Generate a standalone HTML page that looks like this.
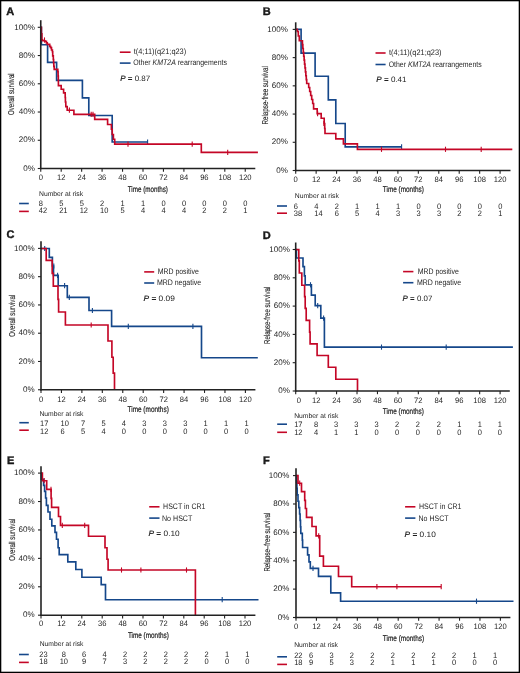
<!DOCTYPE html>
<html><head><meta charset="utf-8"><style>
html,body{margin:0;padding:0;background:#fff;}
svg{display:block;will-change:transform;}
text{font-family:"Liberation Sans", sans-serif;fill:#1e1e1e;text-rendering:geometricPrecision;}
</style></head><body>
<svg width="520" height="673" viewBox="0 0 520 673">
<rect x="0" y="0" width="520" height="673" fill="#fff" stroke="#000" stroke-width="2.6"/>
<text x="6.20" y="14.70" font-size="11" font-weight="bold" fill="#000" stroke="#000" stroke-width="0.35">A</text>
<path d="M40.80 27.30H41.40V44.70H47.60V62.40H56.60V80.30H82.40V97.90H88.80V115.50H112.20V142.00H147.60" fill="none" stroke="#15478a" stroke-width="1.65" stroke-linejoin="miter"/>
<line x1="147.60" y1="139.40" x2="147.60" y2="144.60" stroke="#15478a" stroke-width="1.1"/>
<path d="M40.80 27.30H41.40V33.90H41.90V39.90H42.60V40.70H44.90V41.30H46.40V42.80H47.30V44.30H49.70V46.40H50.60V47.60H51.50V50.00H52.40V51.70H52.70V55.90H53.30V59.50H53.60V63.00H53.80V66.30H54.20V69.40H57.80V71.60H58.10V76.10H58.30V80.50H58.40V85.60H61.20V89.20H63.60V92.80H65.20V97.50H65.40V102.00H65.80V106.60H67.20V110.20H73.90V114.40H94.70V119.40H107.60V124.50H111.40V129.20H112.20V134.50H113.40V139.20H114.70V144.10H201.30V152.30H257.90" fill="none" stroke="#c40626" stroke-width="1.65" stroke-linejoin="miter"/>
<line x1="44.50" y1="37.40" x2="44.50" y2="42.60" stroke="#c40626" stroke-width="1.1"/>
<line x1="69.40" y1="107.60" x2="69.40" y2="112.80" stroke="#c40626" stroke-width="1.1"/>
<line x1="91.20" y1="111.80" x2="91.20" y2="117.00" stroke="#c40626" stroke-width="1.1"/>
<line x1="93.00" y1="111.80" x2="93.00" y2="117.00" stroke="#c40626" stroke-width="1.1"/>
<line x1="128.00" y1="141.50" x2="128.00" y2="146.70" stroke="#c40626" stroke-width="1.1"/>
<line x1="192.20" y1="141.50" x2="192.20" y2="146.70" stroke="#c40626" stroke-width="1.1"/>
<line x1="227.70" y1="149.70" x2="227.70" y2="154.90" stroke="#c40626" stroke-width="1.1"/>
<line x1="40.75" y1="20.20" x2="40.75" y2="169.20" stroke="#222222" stroke-width="1.6"/>
<line x1="40.05" y1="168.50" x2="255.30" y2="168.50" stroke="#222222" stroke-width="1.4"/>
<line x1="37.75" y1="168.50" x2="40.75" y2="168.50" stroke="#222222" stroke-width="1.1"/>
<text x="34.90" y="170.70" font-size="8.1" text-anchor="end" textLength="11.63" lengthAdjust="spacingAndGlyphs">0%</text>
<line x1="37.75" y1="140.26" x2="40.75" y2="140.26" stroke="#222222" stroke-width="1.1"/>
<text x="34.90" y="142.46" font-size="8.1" text-anchor="end" textLength="16.11" lengthAdjust="spacingAndGlyphs">20%</text>
<line x1="37.75" y1="112.02" x2="40.75" y2="112.02" stroke="#222222" stroke-width="1.1"/>
<text x="34.90" y="114.22" font-size="8.1" text-anchor="end" textLength="16.11" lengthAdjust="spacingAndGlyphs">40%</text>
<line x1="37.75" y1="83.78" x2="40.75" y2="83.78" stroke="#222222" stroke-width="1.1"/>
<text x="34.90" y="85.98" font-size="8.1" text-anchor="end" textLength="16.11" lengthAdjust="spacingAndGlyphs">60%</text>
<line x1="37.75" y1="55.54" x2="40.75" y2="55.54" stroke="#222222" stroke-width="1.1"/>
<text x="34.90" y="57.74" font-size="8.1" text-anchor="end" textLength="16.11" lengthAdjust="spacingAndGlyphs">80%</text>
<line x1="37.75" y1="27.30" x2="40.75" y2="27.30" stroke="#222222" stroke-width="1.1"/>
<text x="34.90" y="29.50" font-size="8.1" text-anchor="end" textLength="20.59" lengthAdjust="spacingAndGlyphs">100%</text>
<line x1="40.75" y1="168.50" x2="40.75" y2="171.70" stroke="#222222" stroke-width="1.1"/>
<text x="40.75" y="180.30" font-size="7.9" text-anchor="middle" textLength="4.23" lengthAdjust="spacingAndGlyphs">0</text>
<line x1="61.20" y1="168.50" x2="61.20" y2="171.70" stroke="#222222" stroke-width="1.1"/>
<text x="61.20" y="180.30" font-size="7.9" text-anchor="middle" textLength="8.45" lengthAdjust="spacingAndGlyphs">12</text>
<line x1="81.65" y1="168.50" x2="81.65" y2="171.70" stroke="#222222" stroke-width="1.1"/>
<text x="81.65" y="180.30" font-size="7.9" text-anchor="middle" textLength="8.45" lengthAdjust="spacingAndGlyphs">24</text>
<line x1="102.10" y1="168.50" x2="102.10" y2="171.70" stroke="#222222" stroke-width="1.1"/>
<text x="102.10" y="180.30" font-size="7.9" text-anchor="middle" textLength="8.45" lengthAdjust="spacingAndGlyphs">36</text>
<line x1="122.55" y1="168.50" x2="122.55" y2="171.70" stroke="#222222" stroke-width="1.1"/>
<text x="122.55" y="180.30" font-size="7.9" text-anchor="middle" textLength="8.45" lengthAdjust="spacingAndGlyphs">48</text>
<line x1="143.00" y1="168.50" x2="143.00" y2="171.70" stroke="#222222" stroke-width="1.1"/>
<text x="143.00" y="180.30" font-size="7.9" text-anchor="middle" textLength="8.45" lengthAdjust="spacingAndGlyphs">60</text>
<line x1="163.45" y1="168.50" x2="163.45" y2="171.70" stroke="#222222" stroke-width="1.1"/>
<text x="163.45" y="180.30" font-size="7.9" text-anchor="middle" textLength="8.45" lengthAdjust="spacingAndGlyphs">72</text>
<line x1="183.90" y1="168.50" x2="183.90" y2="171.70" stroke="#222222" stroke-width="1.1"/>
<text x="183.90" y="180.30" font-size="7.9" text-anchor="middle" textLength="8.45" lengthAdjust="spacingAndGlyphs">84</text>
<line x1="204.35" y1="168.50" x2="204.35" y2="171.70" stroke="#222222" stroke-width="1.1"/>
<text x="204.35" y="180.30" font-size="7.9" text-anchor="middle" textLength="8.45" lengthAdjust="spacingAndGlyphs">96</text>
<line x1="224.80" y1="168.50" x2="224.80" y2="171.70" stroke="#222222" stroke-width="1.1"/>
<text x="224.80" y="180.30" font-size="7.9" text-anchor="middle" textLength="12.68" lengthAdjust="spacingAndGlyphs">108</text>
<line x1="245.25" y1="168.50" x2="245.25" y2="171.70" stroke="#222222" stroke-width="1.1"/>
<text x="245.25" y="180.30" font-size="7.9" text-anchor="middle" textLength="12.68" lengthAdjust="spacingAndGlyphs">120</text>
<text x="127.70" y="192.00" font-size="8.2" textLength="40.20" lengthAdjust="spacingAndGlyphs" stroke="#1e1e1e" stroke-width="0.22">Time (months)</text>
<text transform="translate(14.00,94.20) rotate(-90)" x="0" y="0" font-size="8.5" text-anchor="middle" textLength="41.70" lengthAdjust="spacingAndGlyphs" stroke="#1e1e1e" stroke-width="0.12">Overall survival</text>
<line x1="119.80" y1="52.20" x2="130.60" y2="52.20" stroke="#c40626" stroke-width="1.6"/>
<text x="133.70" y="54.20" font-size="8.0" textLength="52.50" lengthAdjust="spacingAndGlyphs">t(4;11)(q21;q23)</text>
<line x1="119.80" y1="63.10" x2="130.60" y2="63.10" stroke="#15478a" stroke-width="1.6"/>
<text x="133.20" y="65.20" font-size="8.0" textLength="93.80" lengthAdjust="spacingAndGlyphs">Other <tspan font-style="italic">KMT2A</tspan> rearrangements</text>
<text x="120.20" y="81.00" font-size="7.8" textLength="30.00" lengthAdjust="spacingAndGlyphs"><tspan font-style="italic" stroke="#1e1e1e" stroke-width="0.2">P</tspan> <tspan font-weight="bold">=</tspan> 0.87</text>
<text x="39.00" y="196.00" font-size="6.8" textLength="44.10" lengthAdjust="spacingAndGlyphs">Number at risk</text>
<line x1="19.10" y1="203.50" x2="28.80" y2="203.50" stroke="#15478a" stroke-width="1.6"/>
<text x="38.75" y="206.30" font-size="7.9" textLength="4.17" lengthAdjust="spacingAndGlyphs">8</text>
<text x="59.20" y="206.30" font-size="7.9" textLength="4.17" lengthAdjust="spacingAndGlyphs">5</text>
<text x="79.65" y="206.30" font-size="7.9" textLength="4.17" lengthAdjust="spacingAndGlyphs">5</text>
<text x="100.10" y="206.30" font-size="7.9" textLength="4.17" lengthAdjust="spacingAndGlyphs">2</text>
<text x="120.55" y="206.30" font-size="7.9" textLength="4.17" lengthAdjust="spacingAndGlyphs">1</text>
<text x="141.00" y="206.30" font-size="7.9" textLength="4.17" lengthAdjust="spacingAndGlyphs">1</text>
<text x="161.45" y="206.30" font-size="7.9" textLength="4.17" lengthAdjust="spacingAndGlyphs">0</text>
<text x="181.90" y="206.30" font-size="7.9" textLength="4.17" lengthAdjust="spacingAndGlyphs">0</text>
<text x="202.35" y="206.30" font-size="7.9" textLength="4.17" lengthAdjust="spacingAndGlyphs">0</text>
<text x="222.80" y="206.30" font-size="7.9" textLength="4.17" lengthAdjust="spacingAndGlyphs">0</text>
<text x="243.25" y="206.30" font-size="7.9" textLength="4.17" lengthAdjust="spacingAndGlyphs">0</text>
<line x1="19.10" y1="211.40" x2="28.80" y2="211.40" stroke="#c40626" stroke-width="1.6"/>
<text x="38.75" y="213.10" font-size="7.9" textLength="8.34" lengthAdjust="spacingAndGlyphs">42</text>
<text x="59.20" y="213.10" font-size="7.9" textLength="8.34" lengthAdjust="spacingAndGlyphs">21</text>
<text x="79.65" y="213.10" font-size="7.9" textLength="8.34" lengthAdjust="spacingAndGlyphs">12</text>
<text x="100.10" y="213.10" font-size="7.9" textLength="8.34" lengthAdjust="spacingAndGlyphs">10</text>
<text x="120.55" y="213.10" font-size="7.9" textLength="4.17" lengthAdjust="spacingAndGlyphs">5</text>
<text x="141.00" y="213.10" font-size="7.9" textLength="4.17" lengthAdjust="spacingAndGlyphs">4</text>
<text x="161.45" y="213.10" font-size="7.9" textLength="4.17" lengthAdjust="spacingAndGlyphs">4</text>
<text x="181.90" y="213.10" font-size="7.9" textLength="4.17" lengthAdjust="spacingAndGlyphs">4</text>
<text x="202.35" y="213.10" font-size="7.9" textLength="4.17" lengthAdjust="spacingAndGlyphs">2</text>
<text x="222.80" y="213.10" font-size="7.9" textLength="4.17" lengthAdjust="spacingAndGlyphs">2</text>
<text x="243.25" y="213.10" font-size="7.9" textLength="4.17" lengthAdjust="spacingAndGlyphs">1</text>
<text x="262.80" y="14.90" font-size="11" font-weight="bold" fill="#000" stroke="#000" stroke-width="0.35">B</text>
<path d="M296.00 29.30H301.10V53.10H315.10V76.20H328.30V99.80H335.80V123.50H345.20V146.80H401.60" fill="none" stroke="#15478a" stroke-width="1.65" stroke-linejoin="miter"/>
<line x1="401.60" y1="144.20" x2="401.60" y2="149.40" stroke="#15478a" stroke-width="1.1"/>
<path d="M296.00 29.30H297.30V31.50H298.30V36.00H299.30V40.70H302.43V44.59H302.85V48.48H303.28V52.37H303.71V56.26H304.14V60.15H304.56V64.05H304.99V67.94H305.42V71.83H305.85V75.72H306.27V79.61H306.70V83.50H308.70V87.50H309.70V91.50H310.70V95.50H311.70V99.50H312.70V103.50H313.60V108.90H317.20V113.60H321.20V118.20H324.20V123.50H324.70V128.50H325.00V133.50H335.80V138.90H343.40V143.80H357.40V149.30H512.30" fill="none" stroke="#c40626" stroke-width="1.65" stroke-linejoin="miter"/>
<line x1="317.60" y1="111.00" x2="317.60" y2="116.20" stroke="#c40626" stroke-width="1.1"/>
<line x1="323.90" y1="120.90" x2="323.90" y2="126.10" stroke="#c40626" stroke-width="1.1"/>
<line x1="381.50" y1="146.70" x2="381.50" y2="151.90" stroke="#c40626" stroke-width="1.1"/>
<line x1="445.50" y1="146.70" x2="445.50" y2="151.90" stroke="#c40626" stroke-width="1.1"/>
<line x1="481.20" y1="146.70" x2="481.20" y2="151.90" stroke="#c40626" stroke-width="1.1"/>
<line x1="295.70" y1="22.30" x2="295.70" y2="171.20" stroke="#222222" stroke-width="1.6"/>
<line x1="295.00" y1="170.50" x2="510.50" y2="170.50" stroke="#222222" stroke-width="1.4"/>
<line x1="292.70" y1="170.50" x2="295.70" y2="170.50" stroke="#222222" stroke-width="1.1"/>
<text x="287.80" y="172.70" font-size="8.1" text-anchor="end" textLength="11.63" lengthAdjust="spacingAndGlyphs">0%</text>
<line x1="292.70" y1="142.28" x2="295.70" y2="142.28" stroke="#222222" stroke-width="1.1"/>
<text x="287.80" y="144.48" font-size="8.1" text-anchor="end" textLength="16.11" lengthAdjust="spacingAndGlyphs">20%</text>
<line x1="292.70" y1="114.06" x2="295.70" y2="114.06" stroke="#222222" stroke-width="1.1"/>
<text x="287.80" y="116.26" font-size="8.1" text-anchor="end" textLength="16.11" lengthAdjust="spacingAndGlyphs">40%</text>
<line x1="292.70" y1="85.84" x2="295.70" y2="85.84" stroke="#222222" stroke-width="1.1"/>
<text x="287.80" y="88.04" font-size="8.1" text-anchor="end" textLength="16.11" lengthAdjust="spacingAndGlyphs">60%</text>
<line x1="292.70" y1="57.62" x2="295.70" y2="57.62" stroke="#222222" stroke-width="1.1"/>
<text x="287.80" y="59.82" font-size="8.1" text-anchor="end" textLength="16.11" lengthAdjust="spacingAndGlyphs">80%</text>
<line x1="292.70" y1="29.40" x2="295.70" y2="29.40" stroke="#222222" stroke-width="1.1"/>
<text x="287.80" y="31.60" font-size="8.1" text-anchor="end" textLength="20.59" lengthAdjust="spacingAndGlyphs">100%</text>
<line x1="295.70" y1="170.50" x2="295.70" y2="173.70" stroke="#222222" stroke-width="1.1"/>
<text x="295.70" y="182.00" font-size="7.9" text-anchor="middle" textLength="4.23" lengthAdjust="spacingAndGlyphs">0</text>
<line x1="316.14" y1="170.50" x2="316.14" y2="173.70" stroke="#222222" stroke-width="1.1"/>
<text x="316.14" y="182.00" font-size="7.9" text-anchor="middle" textLength="8.45" lengthAdjust="spacingAndGlyphs">12</text>
<line x1="336.58" y1="170.50" x2="336.58" y2="173.70" stroke="#222222" stroke-width="1.1"/>
<text x="336.58" y="182.00" font-size="7.9" text-anchor="middle" textLength="8.45" lengthAdjust="spacingAndGlyphs">24</text>
<line x1="357.02" y1="170.50" x2="357.02" y2="173.70" stroke="#222222" stroke-width="1.1"/>
<text x="357.02" y="182.00" font-size="7.9" text-anchor="middle" textLength="8.45" lengthAdjust="spacingAndGlyphs">36</text>
<line x1="377.46" y1="170.50" x2="377.46" y2="173.70" stroke="#222222" stroke-width="1.1"/>
<text x="377.46" y="182.00" font-size="7.9" text-anchor="middle" textLength="8.45" lengthAdjust="spacingAndGlyphs">48</text>
<line x1="397.90" y1="170.50" x2="397.90" y2="173.70" stroke="#222222" stroke-width="1.1"/>
<text x="397.90" y="182.00" font-size="7.9" text-anchor="middle" textLength="8.45" lengthAdjust="spacingAndGlyphs">60</text>
<line x1="418.34" y1="170.50" x2="418.34" y2="173.70" stroke="#222222" stroke-width="1.1"/>
<text x="418.34" y="182.00" font-size="7.9" text-anchor="middle" textLength="8.45" lengthAdjust="spacingAndGlyphs">72</text>
<line x1="438.78" y1="170.50" x2="438.78" y2="173.70" stroke="#222222" stroke-width="1.1"/>
<text x="438.78" y="182.00" font-size="7.9" text-anchor="middle" textLength="8.45" lengthAdjust="spacingAndGlyphs">84</text>
<line x1="459.22" y1="170.50" x2="459.22" y2="173.70" stroke="#222222" stroke-width="1.1"/>
<text x="459.22" y="182.00" font-size="7.9" text-anchor="middle" textLength="8.45" lengthAdjust="spacingAndGlyphs">96</text>
<line x1="479.66" y1="170.50" x2="479.66" y2="173.70" stroke="#222222" stroke-width="1.1"/>
<text x="479.66" y="182.00" font-size="7.9" text-anchor="middle" textLength="12.68" lengthAdjust="spacingAndGlyphs">108</text>
<line x1="500.10" y1="170.50" x2="500.10" y2="173.70" stroke="#222222" stroke-width="1.1"/>
<text x="500.10" y="182.00" font-size="7.9" text-anchor="middle" textLength="12.68" lengthAdjust="spacingAndGlyphs">120</text>
<text x="382.80" y="192.20" font-size="8.2" textLength="41.00" lengthAdjust="spacingAndGlyphs" stroke="#1e1e1e" stroke-width="0.22">Time (months)</text>
<text transform="translate(267.80,95.30) rotate(-90)" x="0" y="0" font-size="8.5" text-anchor="middle" textLength="58.30" lengthAdjust="spacingAndGlyphs" stroke="#1e1e1e" stroke-width="0.12">Relapse-free survival</text>
<line x1="375.50" y1="53.00" x2="385.60" y2="53.00" stroke="#c40626" stroke-width="1.6"/>
<text x="389.00" y="55.30" font-size="8.0" textLength="52.50" lengthAdjust="spacingAndGlyphs">t(4;11)(q21;q23)</text>
<line x1="375.50" y1="64.50" x2="385.60" y2="64.50" stroke="#15478a" stroke-width="1.6"/>
<text x="388.70" y="66.60" font-size="8.0" textLength="93.00" lengthAdjust="spacingAndGlyphs">Other <tspan font-style="italic">KMT2A</tspan> rearrangements</text>
<text x="376.30" y="81.50" font-size="7.8" textLength="30.30" lengthAdjust="spacingAndGlyphs"><tspan font-style="italic" stroke="#1e1e1e" stroke-width="0.2">P</tspan> <tspan font-weight="bold">=</tspan> 0.41</text>
<text x="294.80" y="198.00" font-size="6.8" textLength="44.10" lengthAdjust="spacingAndGlyphs">Number at risk</text>
<line x1="277.00" y1="206.00" x2="287.00" y2="206.00" stroke="#15478a" stroke-width="1.6"/>
<text x="293.80" y="208.60" font-size="7.9" textLength="4.17" lengthAdjust="spacingAndGlyphs">6</text>
<text x="314.24" y="208.60" font-size="7.9" textLength="4.17" lengthAdjust="spacingAndGlyphs">4</text>
<text x="334.68" y="208.60" font-size="7.9" textLength="4.17" lengthAdjust="spacingAndGlyphs">2</text>
<text x="355.12" y="208.60" font-size="7.9" textLength="4.17" lengthAdjust="spacingAndGlyphs">1</text>
<text x="375.56" y="208.60" font-size="7.9" textLength="4.17" lengthAdjust="spacingAndGlyphs">1</text>
<text x="396.00" y="208.60" font-size="7.9" textLength="4.17" lengthAdjust="spacingAndGlyphs">1</text>
<text x="416.44" y="208.60" font-size="7.9" textLength="4.17" lengthAdjust="spacingAndGlyphs">0</text>
<text x="436.88" y="208.60" font-size="7.9" textLength="4.17" lengthAdjust="spacingAndGlyphs">0</text>
<text x="457.32" y="208.60" font-size="7.9" textLength="4.17" lengthAdjust="spacingAndGlyphs">0</text>
<text x="477.76" y="208.60" font-size="7.9" textLength="4.17" lengthAdjust="spacingAndGlyphs">0</text>
<text x="498.20" y="208.60" font-size="7.9" textLength="4.17" lengthAdjust="spacingAndGlyphs">0</text>
<line x1="277.00" y1="213.20" x2="287.00" y2="213.20" stroke="#c40626" stroke-width="1.6"/>
<text x="293.80" y="215.90" font-size="7.9" textLength="8.34" lengthAdjust="spacingAndGlyphs">38</text>
<text x="314.24" y="215.90" font-size="7.9" textLength="8.34" lengthAdjust="spacingAndGlyphs">14</text>
<text x="334.68" y="215.90" font-size="7.9" textLength="4.17" lengthAdjust="spacingAndGlyphs">6</text>
<text x="355.12" y="215.90" font-size="7.9" textLength="4.17" lengthAdjust="spacingAndGlyphs">5</text>
<text x="375.56" y="215.90" font-size="7.9" textLength="4.17" lengthAdjust="spacingAndGlyphs">4</text>
<text x="396.00" y="215.90" font-size="7.9" textLength="4.17" lengthAdjust="spacingAndGlyphs">3</text>
<text x="416.44" y="215.90" font-size="7.9" textLength="4.17" lengthAdjust="spacingAndGlyphs">3</text>
<text x="436.88" y="215.90" font-size="7.9" textLength="4.17" lengthAdjust="spacingAndGlyphs">3</text>
<text x="457.32" y="215.90" font-size="7.9" textLength="4.17" lengthAdjust="spacingAndGlyphs">2</text>
<text x="477.76" y="215.90" font-size="7.9" textLength="4.17" lengthAdjust="spacingAndGlyphs">2</text>
<text x="498.20" y="215.90" font-size="7.9" textLength="4.17" lengthAdjust="spacingAndGlyphs">1</text>
<text x="6.60" y="237.90" font-size="11" font-weight="bold" fill="#000" stroke="#000" stroke-width="0.35">C</text>
<path d="M40.80 248.50H49.30V257.30H52.40V266.00H53.50V275.40H58.20V285.70H67.30V297.40H89.00V310.50H111.60V326.30H201.50V357.70H257.80" fill="none" stroke="#15478a" stroke-width="1.65" stroke-linejoin="miter"/>
<line x1="44.70" y1="245.90" x2="44.70" y2="251.10" stroke="#15478a" stroke-width="1.1"/>
<line x1="53.80" y1="263.40" x2="53.80" y2="268.60" stroke="#15478a" stroke-width="1.1"/>
<line x1="57.60" y1="272.80" x2="57.60" y2="278.00" stroke="#15478a" stroke-width="1.1"/>
<line x1="64.60" y1="283.10" x2="64.60" y2="288.30" stroke="#15478a" stroke-width="1.1"/>
<line x1="69.30" y1="294.80" x2="69.30" y2="300.00" stroke="#15478a" stroke-width="1.1"/>
<line x1="92.40" y1="307.90" x2="92.40" y2="313.10" stroke="#15478a" stroke-width="1.1"/>
<line x1="128.30" y1="323.70" x2="128.30" y2="328.90" stroke="#15478a" stroke-width="1.1"/>
<line x1="192.90" y1="323.70" x2="192.90" y2="328.90" stroke="#15478a" stroke-width="1.1"/>
<path d="M40.80 248.50H46.20V260.30H52.20V273.40H53.30V286.10H58.00V299.30H58.60V312.00H65.40V325.00H108.00V341.00H111.90V357.20H113.20V373.10H114.50V389.80" fill="none" stroke="#c40626" stroke-width="1.65" stroke-linejoin="miter"/>
<line x1="91.20" y1="322.40" x2="91.20" y2="327.60" stroke="#c40626" stroke-width="1.1"/>
<line x1="41.00" y1="241.30" x2="41.00" y2="390.45" stroke="#222222" stroke-width="1.6"/>
<line x1="40.30" y1="389.75" x2="255.40" y2="389.75" stroke="#222222" stroke-width="1.4"/>
<line x1="38.00" y1="389.75" x2="41.00" y2="389.75" stroke="#222222" stroke-width="1.1"/>
<text x="34.60" y="391.95" font-size="8.1" text-anchor="end" textLength="11.63" lengthAdjust="spacingAndGlyphs">0%</text>
<line x1="38.00" y1="361.48" x2="41.00" y2="361.48" stroke="#222222" stroke-width="1.1"/>
<text x="34.60" y="363.68" font-size="8.1" text-anchor="end" textLength="16.11" lengthAdjust="spacingAndGlyphs">20%</text>
<line x1="38.00" y1="333.21" x2="41.00" y2="333.21" stroke="#222222" stroke-width="1.1"/>
<text x="34.60" y="335.41" font-size="8.1" text-anchor="end" textLength="16.11" lengthAdjust="spacingAndGlyphs">40%</text>
<line x1="38.00" y1="304.94" x2="41.00" y2="304.94" stroke="#222222" stroke-width="1.1"/>
<text x="34.60" y="307.14" font-size="8.1" text-anchor="end" textLength="16.11" lengthAdjust="spacingAndGlyphs">60%</text>
<line x1="38.00" y1="276.67" x2="41.00" y2="276.67" stroke="#222222" stroke-width="1.1"/>
<text x="34.60" y="278.87" font-size="8.1" text-anchor="end" textLength="16.11" lengthAdjust="spacingAndGlyphs">80%</text>
<line x1="38.00" y1="248.40" x2="41.00" y2="248.40" stroke="#222222" stroke-width="1.1"/>
<text x="34.60" y="250.60" font-size="8.1" text-anchor="end" textLength="20.59" lengthAdjust="spacingAndGlyphs">100%</text>
<line x1="41.00" y1="389.75" x2="41.00" y2="392.95" stroke="#222222" stroke-width="1.1"/>
<text x="41.00" y="401.80" font-size="7.9" text-anchor="middle" textLength="4.23" lengthAdjust="spacingAndGlyphs">0</text>
<line x1="61.44" y1="389.75" x2="61.44" y2="392.95" stroke="#222222" stroke-width="1.1"/>
<text x="61.44" y="401.80" font-size="7.9" text-anchor="middle" textLength="8.45" lengthAdjust="spacingAndGlyphs">12</text>
<line x1="81.88" y1="389.75" x2="81.88" y2="392.95" stroke="#222222" stroke-width="1.1"/>
<text x="81.88" y="401.80" font-size="7.9" text-anchor="middle" textLength="8.45" lengthAdjust="spacingAndGlyphs">24</text>
<line x1="102.32" y1="389.75" x2="102.32" y2="392.95" stroke="#222222" stroke-width="1.1"/>
<text x="102.32" y="401.80" font-size="7.9" text-anchor="middle" textLength="8.45" lengthAdjust="spacingAndGlyphs">36</text>
<line x1="122.76" y1="389.75" x2="122.76" y2="392.95" stroke="#222222" stroke-width="1.1"/>
<text x="122.76" y="401.80" font-size="7.9" text-anchor="middle" textLength="8.45" lengthAdjust="spacingAndGlyphs">48</text>
<line x1="143.20" y1="389.75" x2="143.20" y2="392.95" stroke="#222222" stroke-width="1.1"/>
<text x="143.20" y="401.80" font-size="7.9" text-anchor="middle" textLength="8.45" lengthAdjust="spacingAndGlyphs">60</text>
<line x1="163.64" y1="389.75" x2="163.64" y2="392.95" stroke="#222222" stroke-width="1.1"/>
<text x="163.64" y="401.80" font-size="7.9" text-anchor="middle" textLength="8.45" lengthAdjust="spacingAndGlyphs">72</text>
<line x1="184.08" y1="389.75" x2="184.08" y2="392.95" stroke="#222222" stroke-width="1.1"/>
<text x="184.08" y="401.80" font-size="7.9" text-anchor="middle" textLength="8.45" lengthAdjust="spacingAndGlyphs">84</text>
<line x1="204.52" y1="389.75" x2="204.52" y2="392.95" stroke="#222222" stroke-width="1.1"/>
<text x="204.52" y="401.80" font-size="7.9" text-anchor="middle" textLength="8.45" lengthAdjust="spacingAndGlyphs">96</text>
<line x1="224.96" y1="389.75" x2="224.96" y2="392.95" stroke="#222222" stroke-width="1.1"/>
<text x="224.96" y="401.80" font-size="7.9" text-anchor="middle" textLength="12.68" lengthAdjust="spacingAndGlyphs">108</text>
<line x1="245.40" y1="389.75" x2="245.40" y2="392.95" stroke="#222222" stroke-width="1.1"/>
<text x="245.40" y="401.80" font-size="7.9" text-anchor="middle" textLength="12.68" lengthAdjust="spacingAndGlyphs">120</text>
<text x="127.50" y="411.80" font-size="8.2" textLength="41.30" lengthAdjust="spacingAndGlyphs" stroke="#1e1e1e" stroke-width="0.22">Time (months)</text>
<text transform="translate(14.60,315.80) rotate(-90)" x="0" y="0" font-size="8.5" text-anchor="middle" textLength="42.00" lengthAdjust="spacingAndGlyphs" stroke="#1e1e1e" stroke-width="0.12">Overall survival</text>
<line x1="144.20" y1="271.90" x2="154.20" y2="271.90" stroke="#c40626" stroke-width="1.6"/>
<text x="157.70" y="273.60" font-size="8.0" textLength="41.20" lengthAdjust="spacingAndGlyphs">MRD positive</text>
<line x1="144.20" y1="283.00" x2="154.20" y2="283.00" stroke="#15478a" stroke-width="1.6"/>
<text x="156.90" y="285.10" font-size="8.0" textLength="44.20" lengthAdjust="spacingAndGlyphs">MRD negative</text>
<text x="143.50" y="300.80" font-size="7.8" textLength="31.40" lengthAdjust="spacingAndGlyphs"><tspan font-style="italic" stroke="#1e1e1e" stroke-width="0.2">P</tspan> <tspan font-weight="bold">=</tspan> 0.09</text>
<text x="39.40" y="416.20" font-size="6.8" textLength="44.10" lengthAdjust="spacingAndGlyphs">Number at risk</text>
<line x1="19.30" y1="422.70" x2="28.80" y2="422.70" stroke="#15478a" stroke-width="1.6"/>
<text x="40.10" y="426.40" font-size="7.9" textLength="8.34" lengthAdjust="spacingAndGlyphs">17</text>
<text x="60.54" y="426.40" font-size="7.9" textLength="8.34" lengthAdjust="spacingAndGlyphs">10</text>
<text x="80.98" y="426.40" font-size="7.9" textLength="4.17" lengthAdjust="spacingAndGlyphs">7</text>
<text x="101.42" y="426.40" font-size="7.9" textLength="4.17" lengthAdjust="spacingAndGlyphs">5</text>
<text x="121.86" y="426.40" font-size="7.9" textLength="4.17" lengthAdjust="spacingAndGlyphs">4</text>
<text x="142.30" y="426.40" font-size="7.9" textLength="4.17" lengthAdjust="spacingAndGlyphs">3</text>
<text x="162.74" y="426.40" font-size="7.9" textLength="4.17" lengthAdjust="spacingAndGlyphs">3</text>
<text x="183.18" y="426.40" font-size="7.9" textLength="4.17" lengthAdjust="spacingAndGlyphs">3</text>
<text x="203.62" y="426.40" font-size="7.9" textLength="4.17" lengthAdjust="spacingAndGlyphs">1</text>
<text x="224.06" y="426.40" font-size="7.9" textLength="4.17" lengthAdjust="spacingAndGlyphs">1</text>
<text x="244.50" y="426.40" font-size="7.9" textLength="4.17" lengthAdjust="spacingAndGlyphs">1</text>
<line x1="19.30" y1="430.20" x2="28.80" y2="430.20" stroke="#c40626" stroke-width="1.6"/>
<text x="40.10" y="433.80" font-size="7.9" textLength="8.34" lengthAdjust="spacingAndGlyphs">12</text>
<text x="60.54" y="433.80" font-size="7.9" textLength="4.17" lengthAdjust="spacingAndGlyphs">6</text>
<text x="80.98" y="433.80" font-size="7.9" textLength="4.17" lengthAdjust="spacingAndGlyphs">5</text>
<text x="101.42" y="433.80" font-size="7.9" textLength="4.17" lengthAdjust="spacingAndGlyphs">4</text>
<text x="121.86" y="433.80" font-size="7.9" textLength="4.17" lengthAdjust="spacingAndGlyphs">0</text>
<text x="142.30" y="433.80" font-size="7.9" textLength="4.17" lengthAdjust="spacingAndGlyphs">0</text>
<text x="162.74" y="433.80" font-size="7.9" textLength="4.17" lengthAdjust="spacingAndGlyphs">0</text>
<text x="183.18" y="433.80" font-size="7.9" textLength="4.17" lengthAdjust="spacingAndGlyphs">0</text>
<text x="203.62" y="433.80" font-size="7.9" textLength="4.17" lengthAdjust="spacingAndGlyphs">0</text>
<text x="224.06" y="433.80" font-size="7.9" textLength="4.17" lengthAdjust="spacingAndGlyphs">0</text>
<text x="244.50" y="433.80" font-size="7.9" textLength="4.17" lengthAdjust="spacingAndGlyphs">0</text>
<text x="262.80" y="238.50" font-size="11" font-weight="bold" fill="#000" stroke="#000" stroke-width="0.35">D</text>
<path d="M295.90 249.60H296.40V258.00H303.00V266.60H304.40V275.90H305.20V284.80H311.40V295.10H315.20V305.60H320.80V318.10H324.40V347.10H512.90" fill="none" stroke="#15478a" stroke-width="1.65" stroke-linejoin="miter"/>
<line x1="310.50" y1="282.20" x2="310.50" y2="287.40" stroke="#15478a" stroke-width="1.1"/>
<line x1="317.70" y1="303.00" x2="317.70" y2="308.20" stroke="#15478a" stroke-width="1.1"/>
<line x1="323.60" y1="315.50" x2="323.60" y2="320.70" stroke="#15478a" stroke-width="1.1"/>
<line x1="381.50" y1="344.50" x2="381.50" y2="349.70" stroke="#15478a" stroke-width="1.1"/>
<line x1="446.20" y1="344.50" x2="446.20" y2="349.70" stroke="#15478a" stroke-width="1.1"/>
<path d="M295.90 249.60H298.80V260.80H299.30V273.00H301.80V285.20H304.60V296.60H305.20V308.40H306.20V320.40H309.60V332.10H310.10V343.80H317.10V355.50H328.30V367.20H335.80V379.20H357.50V390.90" fill="none" stroke="#c40626" stroke-width="1.65" stroke-linejoin="miter"/>
<line x1="295.70" y1="242.50" x2="295.70" y2="391.70" stroke="#222222" stroke-width="1.6"/>
<line x1="295.00" y1="391.00" x2="509.80" y2="391.00" stroke="#222222" stroke-width="1.4"/>
<line x1="292.70" y1="391.00" x2="295.70" y2="391.00" stroke="#222222" stroke-width="1.1"/>
<text x="289.80" y="393.20" font-size="8.1" text-anchor="end" textLength="11.63" lengthAdjust="spacingAndGlyphs">0%</text>
<line x1="292.70" y1="362.70" x2="295.70" y2="362.70" stroke="#222222" stroke-width="1.1"/>
<text x="289.80" y="364.90" font-size="8.1" text-anchor="end" textLength="16.11" lengthAdjust="spacingAndGlyphs">20%</text>
<line x1="292.70" y1="334.40" x2="295.70" y2="334.40" stroke="#222222" stroke-width="1.1"/>
<text x="289.80" y="336.60" font-size="8.1" text-anchor="end" textLength="16.11" lengthAdjust="spacingAndGlyphs">40%</text>
<line x1="292.70" y1="306.10" x2="295.70" y2="306.10" stroke="#222222" stroke-width="1.1"/>
<text x="289.80" y="308.30" font-size="8.1" text-anchor="end" textLength="16.11" lengthAdjust="spacingAndGlyphs">60%</text>
<line x1="292.70" y1="277.80" x2="295.70" y2="277.80" stroke="#222222" stroke-width="1.1"/>
<text x="289.80" y="280.00" font-size="8.1" text-anchor="end" textLength="16.11" lengthAdjust="spacingAndGlyphs">80%</text>
<line x1="292.70" y1="249.50" x2="295.70" y2="249.50" stroke="#222222" stroke-width="1.1"/>
<text x="289.80" y="251.70" font-size="8.1" text-anchor="end" textLength="20.59" lengthAdjust="spacingAndGlyphs">100%</text>
<line x1="295.70" y1="391.00" x2="295.70" y2="394.20" stroke="#222222" stroke-width="1.1"/>
<text x="298.80" y="402.80" font-size="7.9" text-anchor="middle" textLength="4.23" lengthAdjust="spacingAndGlyphs">0</text>
<line x1="316.14" y1="391.00" x2="316.14" y2="394.20" stroke="#222222" stroke-width="1.1"/>
<text x="316.14" y="402.80" font-size="7.9" text-anchor="middle" textLength="8.45" lengthAdjust="spacingAndGlyphs">12</text>
<line x1="336.58" y1="391.00" x2="336.58" y2="394.20" stroke="#222222" stroke-width="1.1"/>
<text x="336.58" y="402.80" font-size="7.9" text-anchor="middle" textLength="8.45" lengthAdjust="spacingAndGlyphs">24</text>
<line x1="357.02" y1="391.00" x2="357.02" y2="394.20" stroke="#222222" stroke-width="1.1"/>
<text x="357.02" y="402.80" font-size="7.9" text-anchor="middle" textLength="8.45" lengthAdjust="spacingAndGlyphs">36</text>
<line x1="377.46" y1="391.00" x2="377.46" y2="394.20" stroke="#222222" stroke-width="1.1"/>
<text x="377.46" y="402.80" font-size="7.9" text-anchor="middle" textLength="8.45" lengthAdjust="spacingAndGlyphs">48</text>
<line x1="397.90" y1="391.00" x2="397.90" y2="394.20" stroke="#222222" stroke-width="1.1"/>
<text x="397.90" y="402.80" font-size="7.9" text-anchor="middle" textLength="8.45" lengthAdjust="spacingAndGlyphs">60</text>
<line x1="418.34" y1="391.00" x2="418.34" y2="394.20" stroke="#222222" stroke-width="1.1"/>
<text x="418.34" y="402.80" font-size="7.9" text-anchor="middle" textLength="8.45" lengthAdjust="spacingAndGlyphs">72</text>
<line x1="438.78" y1="391.00" x2="438.78" y2="394.20" stroke="#222222" stroke-width="1.1"/>
<text x="438.78" y="402.80" font-size="7.9" text-anchor="middle" textLength="8.45" lengthAdjust="spacingAndGlyphs">84</text>
<line x1="459.22" y1="391.00" x2="459.22" y2="394.20" stroke="#222222" stroke-width="1.1"/>
<text x="459.22" y="402.80" font-size="7.9" text-anchor="middle" textLength="8.45" lengthAdjust="spacingAndGlyphs">96</text>
<line x1="479.66" y1="391.00" x2="479.66" y2="394.20" stroke="#222222" stroke-width="1.1"/>
<text x="479.66" y="402.80" font-size="7.9" text-anchor="middle" textLength="12.68" lengthAdjust="spacingAndGlyphs">108</text>
<line x1="500.10" y1="391.00" x2="500.10" y2="394.20" stroke="#222222" stroke-width="1.1"/>
<text x="500.10" y="402.80" font-size="7.9" text-anchor="middle" textLength="12.68" lengthAdjust="spacingAndGlyphs">120</text>
<text x="382.80" y="414.00" font-size="8.2" textLength="41.00" lengthAdjust="spacingAndGlyphs" stroke="#1e1e1e" stroke-width="0.22">Time (months)</text>
<text transform="translate(270.00,315.40) rotate(-90)" x="0" y="0" font-size="8.5" text-anchor="middle" textLength="57.20" lengthAdjust="spacingAndGlyphs" stroke="#1e1e1e" stroke-width="0.12">Relapse-free survival</text>
<line x1="403.10" y1="271.60" x2="413.40" y2="271.60" stroke="#c40626" stroke-width="1.6"/>
<text x="417.70" y="273.60" font-size="8.0" textLength="41.20" lengthAdjust="spacingAndGlyphs">MRD positive</text>
<line x1="403.10" y1="282.70" x2="413.40" y2="282.70" stroke="#15478a" stroke-width="1.6"/>
<text x="416.90" y="285.00" font-size="8.0" textLength="44.20" lengthAdjust="spacingAndGlyphs">MRD negative</text>
<text x="402.60" y="300.50" font-size="7.8" textLength="29.70" lengthAdjust="spacingAndGlyphs"><tspan font-style="italic" stroke="#1e1e1e" stroke-width="0.2">P</tspan> <tspan font-weight="bold">=</tspan> 0.07</text>
<text x="294.20" y="418.00" font-size="6.8" textLength="44.10" lengthAdjust="spacingAndGlyphs">Number at risk</text>
<line x1="277.20" y1="424.20" x2="287.00" y2="424.20" stroke="#15478a" stroke-width="1.6"/>
<text x="294.20" y="427.20" font-size="7.9" textLength="8.34" lengthAdjust="spacingAndGlyphs">17</text>
<text x="313.94" y="427.20" font-size="7.9" textLength="4.17" lengthAdjust="spacingAndGlyphs">8</text>
<text x="333.98" y="427.20" font-size="7.9" textLength="4.17" lengthAdjust="spacingAndGlyphs">3</text>
<text x="354.32" y="427.20" font-size="7.9" textLength="4.17" lengthAdjust="spacingAndGlyphs">3</text>
<text x="374.46" y="427.20" font-size="7.9" textLength="4.17" lengthAdjust="spacingAndGlyphs">3</text>
<text x="394.90" y="427.20" font-size="7.9" textLength="4.17" lengthAdjust="spacingAndGlyphs">2</text>
<text x="415.84" y="427.20" font-size="7.9" textLength="4.17" lengthAdjust="spacingAndGlyphs">2</text>
<text x="436.78" y="427.20" font-size="7.9" textLength="4.17" lengthAdjust="spacingAndGlyphs">2</text>
<text x="457.22" y="427.20" font-size="7.9" textLength="4.17" lengthAdjust="spacingAndGlyphs">1</text>
<text x="477.66" y="427.20" font-size="7.9" textLength="4.17" lengthAdjust="spacingAndGlyphs">1</text>
<text x="497.80" y="427.20" font-size="7.9" textLength="4.17" lengthAdjust="spacingAndGlyphs">1</text>
<line x1="277.20" y1="432.30" x2="287.00" y2="432.30" stroke="#c40626" stroke-width="1.6"/>
<text x="294.20" y="434.70" font-size="7.9" textLength="8.34" lengthAdjust="spacingAndGlyphs">12</text>
<text x="313.94" y="434.70" font-size="7.9" textLength="4.17" lengthAdjust="spacingAndGlyphs">4</text>
<text x="333.98" y="434.70" font-size="7.9" textLength="4.17" lengthAdjust="spacingAndGlyphs">1</text>
<text x="354.32" y="434.70" font-size="7.9" textLength="4.17" lengthAdjust="spacingAndGlyphs">1</text>
<text x="374.46" y="434.70" font-size="7.9" textLength="4.17" lengthAdjust="spacingAndGlyphs">0</text>
<text x="394.90" y="434.70" font-size="7.9" textLength="4.17" lengthAdjust="spacingAndGlyphs">0</text>
<text x="415.84" y="434.70" font-size="7.9" textLength="4.17" lengthAdjust="spacingAndGlyphs">0</text>
<text x="436.78" y="434.70" font-size="7.9" textLength="4.17" lengthAdjust="spacingAndGlyphs">0</text>
<text x="457.22" y="434.70" font-size="7.9" textLength="4.17" lengthAdjust="spacingAndGlyphs">0</text>
<text x="477.66" y="434.70" font-size="7.9" textLength="4.17" lengthAdjust="spacingAndGlyphs">0</text>
<text x="497.80" y="434.70" font-size="7.9" textLength="4.17" lengthAdjust="spacingAndGlyphs">0</text>
<text x="6.90" y="464.00" font-size="11" font-weight="bold" fill="#000" stroke="#000" stroke-width="0.35">E</text>
<path d="M41.10 473.10H41.40V479.20H43.60V485.30H44.60V491.40H45.60V498.00H46.40V505.30H48.00V512.00H50.00V519.20H51.80V525.80H55.00V532.30H56.50V539.20H58.10V547.70H59.20V554.60H67.80V561.80H75.80V569.50H81.90V577.20H101.20V584.60H105.50V599.70H258.50" fill="none" stroke="#15478a" stroke-width="1.65" stroke-linejoin="miter"/>
<line x1="222.20" y1="597.10" x2="222.20" y2="602.30" stroke="#15478a" stroke-width="1.1"/>
<path d="M41.10 473.10H42.40V480.70H46.70V489.40H51.10V498.30H51.60V507.30H58.50V516.50H60.50V525.40H88.50V536.20H105.00V547.70H107.00V559.20H108.10V570.00H195.40V615.00" fill="none" stroke="#c40626" stroke-width="1.65" stroke-linejoin="miter"/>
<line x1="44.20" y1="478.10" x2="44.20" y2="483.30" stroke="#c40626" stroke-width="1.1"/>
<line x1="51.00" y1="486.80" x2="51.00" y2="492.00" stroke="#c40626" stroke-width="1.1"/>
<line x1="62.30" y1="522.80" x2="62.30" y2="528.00" stroke="#c40626" stroke-width="1.1"/>
<line x1="84.70" y1="522.80" x2="84.70" y2="528.00" stroke="#c40626" stroke-width="1.1"/>
<line x1="121.50" y1="567.40" x2="121.50" y2="572.60" stroke="#c40626" stroke-width="1.1"/>
<line x1="140.90" y1="567.40" x2="140.90" y2="572.60" stroke="#c40626" stroke-width="1.1"/>
<line x1="186.50" y1="567.40" x2="186.50" y2="572.60" stroke="#c40626" stroke-width="1.1"/>
<line x1="41.00" y1="466.30" x2="41.00" y2="615.90" stroke="#222222" stroke-width="1.6"/>
<line x1="40.30" y1="615.20" x2="255.40" y2="615.20" stroke="#222222" stroke-width="1.4"/>
<line x1="38.00" y1="615.20" x2="41.00" y2="615.20" stroke="#222222" stroke-width="1.1"/>
<text x="34.60" y="617.40" font-size="8.1" text-anchor="end" textLength="11.63" lengthAdjust="spacingAndGlyphs">0%</text>
<line x1="38.00" y1="586.78" x2="41.00" y2="586.78" stroke="#222222" stroke-width="1.1"/>
<text x="34.60" y="588.98" font-size="8.1" text-anchor="end" textLength="16.11" lengthAdjust="spacingAndGlyphs">20%</text>
<line x1="38.00" y1="558.36" x2="41.00" y2="558.36" stroke="#222222" stroke-width="1.1"/>
<text x="34.60" y="560.56" font-size="8.1" text-anchor="end" textLength="16.11" lengthAdjust="spacingAndGlyphs">40%</text>
<line x1="38.00" y1="529.94" x2="41.00" y2="529.94" stroke="#222222" stroke-width="1.1"/>
<text x="34.60" y="532.14" font-size="8.1" text-anchor="end" textLength="16.11" lengthAdjust="spacingAndGlyphs">60%</text>
<line x1="38.00" y1="501.52" x2="41.00" y2="501.52" stroke="#222222" stroke-width="1.1"/>
<text x="34.60" y="503.72" font-size="8.1" text-anchor="end" textLength="16.11" lengthAdjust="spacingAndGlyphs">80%</text>
<line x1="38.00" y1="473.10" x2="41.00" y2="473.10" stroke="#222222" stroke-width="1.1"/>
<text x="34.60" y="475.30" font-size="8.1" text-anchor="end" textLength="20.59" lengthAdjust="spacingAndGlyphs">100%</text>
<line x1="41.00" y1="615.20" x2="41.00" y2="618.40" stroke="#222222" stroke-width="1.1"/>
<text x="41.00" y="626.40" font-size="7.9" text-anchor="middle" textLength="4.23" lengthAdjust="spacingAndGlyphs">0</text>
<line x1="61.40" y1="615.20" x2="61.40" y2="618.40" stroke="#222222" stroke-width="1.1"/>
<text x="61.40" y="626.40" font-size="7.9" text-anchor="middle" textLength="8.45" lengthAdjust="spacingAndGlyphs">12</text>
<line x1="81.80" y1="615.20" x2="81.80" y2="618.40" stroke="#222222" stroke-width="1.1"/>
<text x="81.80" y="626.40" font-size="7.9" text-anchor="middle" textLength="8.45" lengthAdjust="spacingAndGlyphs">24</text>
<line x1="102.20" y1="615.20" x2="102.20" y2="618.40" stroke="#222222" stroke-width="1.1"/>
<text x="102.20" y="626.40" font-size="7.9" text-anchor="middle" textLength="8.45" lengthAdjust="spacingAndGlyphs">36</text>
<line x1="122.60" y1="615.20" x2="122.60" y2="618.40" stroke="#222222" stroke-width="1.1"/>
<text x="122.60" y="626.40" font-size="7.9" text-anchor="middle" textLength="8.45" lengthAdjust="spacingAndGlyphs">48</text>
<line x1="143.00" y1="615.20" x2="143.00" y2="618.40" stroke="#222222" stroke-width="1.1"/>
<text x="143.00" y="626.40" font-size="7.9" text-anchor="middle" textLength="8.45" lengthAdjust="spacingAndGlyphs">60</text>
<line x1="163.40" y1="615.20" x2="163.40" y2="618.40" stroke="#222222" stroke-width="1.1"/>
<text x="163.40" y="626.40" font-size="7.9" text-anchor="middle" textLength="8.45" lengthAdjust="spacingAndGlyphs">72</text>
<line x1="183.80" y1="615.20" x2="183.80" y2="618.40" stroke="#222222" stroke-width="1.1"/>
<text x="183.80" y="626.40" font-size="7.9" text-anchor="middle" textLength="8.45" lengthAdjust="spacingAndGlyphs">84</text>
<line x1="204.20" y1="615.20" x2="204.20" y2="618.40" stroke="#222222" stroke-width="1.1"/>
<text x="204.20" y="626.40" font-size="7.9" text-anchor="middle" textLength="8.45" lengthAdjust="spacingAndGlyphs">96</text>
<line x1="224.60" y1="615.20" x2="224.60" y2="618.40" stroke="#222222" stroke-width="1.1"/>
<text x="224.60" y="626.40" font-size="7.9" text-anchor="middle" textLength="12.68" lengthAdjust="spacingAndGlyphs">108</text>
<line x1="245.00" y1="615.20" x2="245.00" y2="618.40" stroke="#222222" stroke-width="1.1"/>
<text x="245.00" y="626.40" font-size="7.9" text-anchor="middle" textLength="12.68" lengthAdjust="spacingAndGlyphs">120</text>
<text x="127.90" y="638.10" font-size="8.2" textLength="40.90" lengthAdjust="spacingAndGlyphs" stroke="#1e1e1e" stroke-width="0.22">Time (months)</text>
<text transform="translate(14.80,539.80) rotate(-90)" x="0" y="0" font-size="8.5" text-anchor="middle" textLength="42.00" lengthAdjust="spacingAndGlyphs" stroke="#1e1e1e" stroke-width="0.12">Overall survival</text>
<line x1="149.20" y1="506.80" x2="159.50" y2="506.80" stroke="#c40626" stroke-width="1.6"/>
<text x="163.10" y="509.10" font-size="8.0" textLength="42.30" lengthAdjust="spacingAndGlyphs">HSCT in CR1</text>
<line x1="149.20" y1="518.10" x2="159.50" y2="518.10" stroke="#15478a" stroke-width="1.6"/>
<text x="162.00" y="520.50" font-size="8.0" textLength="30.30" lengthAdjust="spacingAndGlyphs">No HSCT</text>
<text x="148.50" y="536.20" font-size="7.8" textLength="31.20" lengthAdjust="spacingAndGlyphs"><tspan font-style="italic" stroke="#1e1e1e" stroke-width="0.2">P</tspan> <tspan font-weight="bold">=</tspan> 0.10</text>
<text x="39.70" y="646.00" font-size="6.8" textLength="43.80" lengthAdjust="spacingAndGlyphs">Number at risk</text>
<line x1="19.00" y1="654.50" x2="28.80" y2="654.50" stroke="#15478a" stroke-width="1.6"/>
<text x="43.40" y="656.70" font-size="7.9" text-anchor="middle" textLength="8.34" lengthAdjust="spacingAndGlyphs">23</text>
<text x="63.80" y="656.70" font-size="7.9" text-anchor="middle" textLength="4.17" lengthAdjust="spacingAndGlyphs">8</text>
<text x="84.20" y="656.70" font-size="7.9" text-anchor="middle" textLength="4.17" lengthAdjust="spacingAndGlyphs">6</text>
<text x="104.60" y="656.70" font-size="7.9" text-anchor="middle" textLength="4.17" lengthAdjust="spacingAndGlyphs">4</text>
<text x="125.00" y="656.70" font-size="7.9" text-anchor="middle" textLength="4.17" lengthAdjust="spacingAndGlyphs">2</text>
<text x="145.40" y="656.70" font-size="7.9" text-anchor="middle" textLength="4.17" lengthAdjust="spacingAndGlyphs">2</text>
<text x="165.80" y="656.70" font-size="7.9" text-anchor="middle" textLength="4.17" lengthAdjust="spacingAndGlyphs">2</text>
<text x="186.20" y="656.70" font-size="7.9" text-anchor="middle" textLength="4.17" lengthAdjust="spacingAndGlyphs">2</text>
<text x="206.60" y="656.70" font-size="7.9" text-anchor="middle" textLength="4.17" lengthAdjust="spacingAndGlyphs">2</text>
<text x="227.00" y="656.70" font-size="7.9" text-anchor="middle" textLength="4.17" lengthAdjust="spacingAndGlyphs">1</text>
<text x="247.40" y="656.70" font-size="7.9" text-anchor="middle" textLength="4.17" lengthAdjust="spacingAndGlyphs">1</text>
<line x1="19.00" y1="662.40" x2="28.80" y2="662.40" stroke="#c40626" stroke-width="1.6"/>
<text x="43.40" y="664.30" font-size="7.9" text-anchor="middle" textLength="8.34" lengthAdjust="spacingAndGlyphs">18</text>
<text x="63.80" y="664.30" font-size="7.9" text-anchor="middle" textLength="8.34" lengthAdjust="spacingAndGlyphs">10</text>
<text x="84.20" y="664.30" font-size="7.9" text-anchor="middle" textLength="4.17" lengthAdjust="spacingAndGlyphs">9</text>
<text x="104.60" y="664.30" font-size="7.9" text-anchor="middle" textLength="4.17" lengthAdjust="spacingAndGlyphs">7</text>
<text x="125.00" y="664.30" font-size="7.9" text-anchor="middle" textLength="4.17" lengthAdjust="spacingAndGlyphs">3</text>
<text x="145.40" y="664.30" font-size="7.9" text-anchor="middle" textLength="4.17" lengthAdjust="spacingAndGlyphs">2</text>
<text x="165.80" y="664.30" font-size="7.9" text-anchor="middle" textLength="4.17" lengthAdjust="spacingAndGlyphs">2</text>
<text x="186.20" y="664.30" font-size="7.9" text-anchor="middle" textLength="4.17" lengthAdjust="spacingAndGlyphs">2</text>
<text x="206.60" y="664.30" font-size="7.9" text-anchor="middle" textLength="4.17" lengthAdjust="spacingAndGlyphs">0</text>
<text x="227.00" y="664.30" font-size="7.9" text-anchor="middle" textLength="4.17" lengthAdjust="spacingAndGlyphs">0</text>
<text x="247.40" y="664.30" font-size="7.9" text-anchor="middle" textLength="4.17" lengthAdjust="spacingAndGlyphs">0</text>
<text x="262.90" y="464.00" font-size="11" font-weight="bold" fill="#000" stroke="#000" stroke-width="0.35">F</text>
<path d="M296.10 475.60H296.60V482.00H296.90V488.40H297.20V494.80H298.00V501.20H298.80V507.60H299.60V514.00H300.10V520.40H300.50V526.80H300.80V533.40H302.30V540.10H302.60V547.50H307.60V554.80H309.00V561.80H310.30V568.30H318.50V576.30H330.80V592.90H340.60V601.20H513.50" fill="none" stroke="#15478a" stroke-width="1.65" stroke-linejoin="miter"/>
<line x1="313.00" y1="565.70" x2="313.00" y2="570.90" stroke="#15478a" stroke-width="1.1"/>
<line x1="476.50" y1="598.60" x2="476.50" y2="603.80" stroke="#15478a" stroke-width="1.1"/>
<path d="M296.10 475.60H298.00V483.20H301.50V491.60H304.70V500.40H305.40V508.50H306.50V517.30H312.00V526.50H316.10V535.80H319.70V556.10H323.40V566.20H338.50V576.50H351.70V586.70H441.20" fill="none" stroke="#c40626" stroke-width="1.65" stroke-linejoin="miter"/>
<line x1="299.70" y1="480.60" x2="299.70" y2="485.80" stroke="#c40626" stroke-width="1.1"/>
<line x1="318.70" y1="533.20" x2="318.70" y2="538.40" stroke="#c40626" stroke-width="1.1"/>
<line x1="376.90" y1="584.10" x2="376.90" y2="589.30" stroke="#c40626" stroke-width="1.1"/>
<line x1="396.90" y1="584.10" x2="396.90" y2="589.30" stroke="#c40626" stroke-width="1.1"/>
<line x1="441.20" y1="584.10" x2="441.20" y2="589.30" stroke="#c40626" stroke-width="1.1"/>
<line x1="296.00" y1="468.30" x2="296.00" y2="618.20" stroke="#222222" stroke-width="1.6"/>
<line x1="295.30" y1="617.50" x2="510.40" y2="617.50" stroke="#222222" stroke-width="1.4"/>
<line x1="293.00" y1="617.50" x2="296.00" y2="617.50" stroke="#222222" stroke-width="1.1"/>
<text x="289.40" y="619.70" font-size="8.1" text-anchor="end" textLength="11.63" lengthAdjust="spacingAndGlyphs">0%</text>
<line x1="293.00" y1="589.12" x2="296.00" y2="589.12" stroke="#222222" stroke-width="1.1"/>
<text x="289.40" y="591.32" font-size="8.1" text-anchor="end" textLength="16.11" lengthAdjust="spacingAndGlyphs">20%</text>
<line x1="293.00" y1="560.74" x2="296.00" y2="560.74" stroke="#222222" stroke-width="1.1"/>
<text x="289.40" y="562.94" font-size="8.1" text-anchor="end" textLength="16.11" lengthAdjust="spacingAndGlyphs">40%</text>
<line x1="293.00" y1="532.36" x2="296.00" y2="532.36" stroke="#222222" stroke-width="1.1"/>
<text x="289.40" y="534.56" font-size="8.1" text-anchor="end" textLength="16.11" lengthAdjust="spacingAndGlyphs">60%</text>
<line x1="293.00" y1="503.98" x2="296.00" y2="503.98" stroke="#222222" stroke-width="1.1"/>
<text x="289.40" y="506.18" font-size="8.1" text-anchor="end" textLength="16.11" lengthAdjust="spacingAndGlyphs">80%</text>
<line x1="293.00" y1="475.60" x2="296.00" y2="475.60" stroke="#222222" stroke-width="1.1"/>
<text x="289.40" y="477.80" font-size="8.1" text-anchor="end" textLength="20.59" lengthAdjust="spacingAndGlyphs">100%</text>
<line x1="296.00" y1="617.50" x2="296.00" y2="620.70" stroke="#222222" stroke-width="1.1"/>
<text x="296.00" y="629.00" font-size="7.9" text-anchor="middle" textLength="4.23" lengthAdjust="spacingAndGlyphs">0</text>
<line x1="316.44" y1="617.50" x2="316.44" y2="620.70" stroke="#222222" stroke-width="1.1"/>
<text x="316.44" y="629.00" font-size="7.9" text-anchor="middle" textLength="8.45" lengthAdjust="spacingAndGlyphs">12</text>
<line x1="336.88" y1="617.50" x2="336.88" y2="620.70" stroke="#222222" stroke-width="1.1"/>
<text x="336.88" y="629.00" font-size="7.9" text-anchor="middle" textLength="8.45" lengthAdjust="spacingAndGlyphs">24</text>
<line x1="357.32" y1="617.50" x2="357.32" y2="620.70" stroke="#222222" stroke-width="1.1"/>
<text x="357.32" y="629.00" font-size="7.9" text-anchor="middle" textLength="8.45" lengthAdjust="spacingAndGlyphs">36</text>
<line x1="377.76" y1="617.50" x2="377.76" y2="620.70" stroke="#222222" stroke-width="1.1"/>
<text x="377.76" y="629.00" font-size="7.9" text-anchor="middle" textLength="8.45" lengthAdjust="spacingAndGlyphs">48</text>
<line x1="398.20" y1="617.50" x2="398.20" y2="620.70" stroke="#222222" stroke-width="1.1"/>
<text x="398.20" y="629.00" font-size="7.9" text-anchor="middle" textLength="8.45" lengthAdjust="spacingAndGlyphs">60</text>
<line x1="418.64" y1="617.50" x2="418.64" y2="620.70" stroke="#222222" stroke-width="1.1"/>
<text x="418.64" y="629.00" font-size="7.9" text-anchor="middle" textLength="8.45" lengthAdjust="spacingAndGlyphs">72</text>
<line x1="439.08" y1="617.50" x2="439.08" y2="620.70" stroke="#222222" stroke-width="1.1"/>
<text x="439.08" y="629.00" font-size="7.9" text-anchor="middle" textLength="8.45" lengthAdjust="spacingAndGlyphs">84</text>
<line x1="459.52" y1="617.50" x2="459.52" y2="620.70" stroke="#222222" stroke-width="1.1"/>
<text x="459.52" y="629.00" font-size="7.9" text-anchor="middle" textLength="8.45" lengthAdjust="spacingAndGlyphs">96</text>
<line x1="479.96" y1="617.50" x2="479.96" y2="620.70" stroke="#222222" stroke-width="1.1"/>
<text x="479.96" y="629.00" font-size="7.9" text-anchor="middle" textLength="12.68" lengthAdjust="spacingAndGlyphs">108</text>
<line x1="500.40" y1="617.50" x2="500.40" y2="620.70" stroke="#222222" stroke-width="1.1"/>
<text x="500.40" y="629.00" font-size="7.9" text-anchor="middle" textLength="12.68" lengthAdjust="spacingAndGlyphs">120</text>
<text x="382.80" y="640.80" font-size="8.2" textLength="41.30" lengthAdjust="spacingAndGlyphs" stroke="#1e1e1e" stroke-width="0.22">Time (months)</text>
<text transform="translate(270.00,542.20) rotate(-90)" x="0" y="0" font-size="8.5" text-anchor="middle" textLength="58.80" lengthAdjust="spacingAndGlyphs" stroke="#1e1e1e" stroke-width="0.12">Relapse–free survival</text>
<line x1="405.10" y1="506.80" x2="415.40" y2="506.80" stroke="#c40626" stroke-width="1.6"/>
<text x="418.90" y="509.10" font-size="8.0" textLength="42.60" lengthAdjust="spacingAndGlyphs">HSCT in CR1</text>
<line x1="405.10" y1="518.10" x2="415.40" y2="518.10" stroke="#15478a" stroke-width="1.6"/>
<text x="418.50" y="520.50" font-size="8.0" textLength="30.00" lengthAdjust="spacingAndGlyphs">No HSCT</text>
<text x="404.60" y="536.50" font-size="7.8" textLength="31.20" lengthAdjust="spacingAndGlyphs"><tspan font-style="italic" stroke="#1e1e1e" stroke-width="0.2">P</tspan> <tspan font-weight="bold">=</tspan> 0.10</text>
<text x="294.20" y="647.40" font-size="6.8" textLength="43.80" lengthAdjust="spacingAndGlyphs">Number at risk</text>
<line x1="277.20" y1="656.80" x2="287.00" y2="656.80" stroke="#15478a" stroke-width="1.6"/>
<text x="294.20" y="657.60" font-size="7.9" textLength="8.34" lengthAdjust="spacingAndGlyphs">22</text>
<text x="308.94" y="657.60" font-size="7.9" textLength="4.17" lengthAdjust="spacingAndGlyphs">6</text>
<text x="329.38" y="657.60" font-size="7.9" textLength="4.17" lengthAdjust="spacingAndGlyphs">3</text>
<text x="349.82" y="657.60" font-size="7.9" textLength="4.17" lengthAdjust="spacingAndGlyphs">2</text>
<text x="370.26" y="657.60" font-size="7.9" textLength="4.17" lengthAdjust="spacingAndGlyphs">2</text>
<text x="390.70" y="657.60" font-size="7.9" textLength="4.17" lengthAdjust="spacingAndGlyphs">2</text>
<text x="411.14" y="657.60" font-size="7.9" textLength="4.17" lengthAdjust="spacingAndGlyphs">2</text>
<text x="431.58" y="657.60" font-size="7.9" textLength="4.17" lengthAdjust="spacingAndGlyphs">2</text>
<text x="452.02" y="657.60" font-size="7.9" textLength="4.17" lengthAdjust="spacingAndGlyphs">2</text>
<text x="472.46" y="657.60" font-size="7.9" textLength="4.17" lengthAdjust="spacingAndGlyphs">1</text>
<text x="492.90" y="657.60" font-size="7.9" textLength="4.17" lengthAdjust="spacingAndGlyphs">1</text>
<line x1="277.20" y1="664.40" x2="287.00" y2="664.40" stroke="#c40626" stroke-width="1.6"/>
<text x="294.20" y="664.90" font-size="7.9" textLength="8.34" lengthAdjust="spacingAndGlyphs">18</text>
<text x="308.94" y="664.90" font-size="7.9" textLength="4.17" lengthAdjust="spacingAndGlyphs">9</text>
<text x="329.38" y="664.90" font-size="7.9" textLength="4.17" lengthAdjust="spacingAndGlyphs">5</text>
<text x="349.82" y="664.90" font-size="7.9" textLength="4.17" lengthAdjust="spacingAndGlyphs">3</text>
<text x="370.26" y="664.90" font-size="7.9" textLength="4.17" lengthAdjust="spacingAndGlyphs">2</text>
<text x="390.70" y="664.90" font-size="7.9" textLength="4.17" lengthAdjust="spacingAndGlyphs">1</text>
<text x="411.14" y="664.90" font-size="7.9" textLength="4.17" lengthAdjust="spacingAndGlyphs">1</text>
<text x="431.58" y="664.90" font-size="7.9" textLength="4.17" lengthAdjust="spacingAndGlyphs">1</text>
<text x="452.02" y="664.90" font-size="7.9" textLength="4.17" lengthAdjust="spacingAndGlyphs">0</text>
<text x="472.46" y="664.90" font-size="7.9" textLength="4.17" lengthAdjust="spacingAndGlyphs">0</text>
<text x="492.90" y="664.90" font-size="7.9" textLength="4.17" lengthAdjust="spacingAndGlyphs">0</text>
</svg>
</body></html>
